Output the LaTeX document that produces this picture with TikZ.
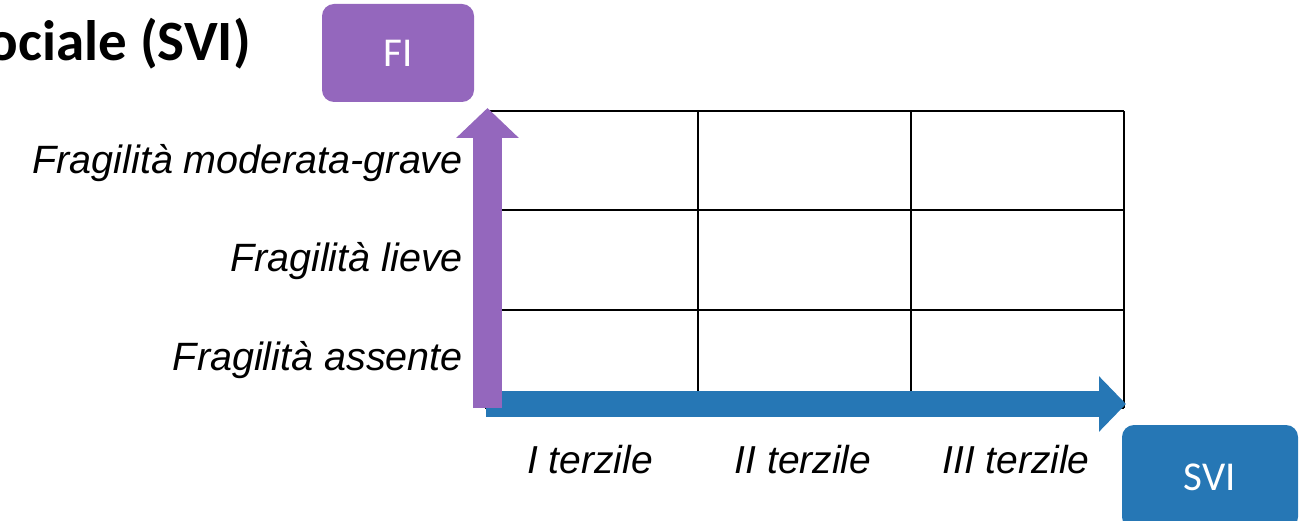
\documentclass[tikz,border=0pt]{standalone}
\usepackage{fontspec}
\setmainfont{Liberation Sans}
\newfontfamily\calibri{Carlito}
\usetikzlibrary{arrows.meta}
\definecolor{fipurple}{HTML}{9467BD}
\definecolor{sviblue}{HTML}{2677B5}
\begin{document}
\begin{tikzpicture}[x=1pt,y=-1pt,
  gridline/.style={line width=2pt,black},
  axisbox/.style={rounded corners=12pt,inner sep=0pt,text=white,font=\calibri\fontsize{41}{48}\selectfont},
  rowlabel/.style={anchor=base east,inner sep=0pt,font=\itshape\fontsize{39.5}{46}\selectfont},
  collabel/.style={anchor=base,inner sep=0pt,font=\itshape\fontsize{39}{46}\selectfont}]
\useasboundingbox (0,0) rectangle (1306,521);
% grid
\foreach \x in {485,698,911,1124} \draw[gridline] (\x,111) -- (\x,408);
\foreach \y in {111,210,310,408} \draw[gridline] (485,\y) -- (1124,\y);
% title
\node[anchor=base east,inner sep=0pt,font=\calibri\bfseries\fontsize{57}{64}\selectfont] (title) at (251,61) {ociale (SVI)};
% boxes
\node[axisbox,fill=fipurple,minimum width=152pt,minimum height=98pt] (fi) at (398,53) {FI};
\node[axisbox,fill=sviblue,minimum width=176pt,minimum height=104pt] (svi) at (1210,477) {SVI};
% axes
\coordinate (xs) at (486,404);
\coordinate (xe) at (1126,404);
\coordinate (ys) at (487.5,408);
\coordinate (ye) at (487.5,108);
\draw[sviblue,line width=26pt,-{Triangle[length=27pt,width=54pt]}] (xs) -- (xe);
\draw[fipurple,line width=29pt,-{Triangle[length=30pt,width=61pt]}] (ys) -- (ye);
% labels
\node[rowlabel] (r3) at (463,174) {Fragilità moderata-grave};
\node[rowlabel] (r2) at (463,272) {Fragilità lieve};
\node[rowlabel] (r1) at (463,370) {Fragilità assente};
\node[collabel] (c1) at (590,473) {I terzile};
\node[collabel] (c2) at (803,473) {II terzile};
\node[collabel] (c3) at (1016,473) {III terzile};
\end{tikzpicture}
\end{document}
